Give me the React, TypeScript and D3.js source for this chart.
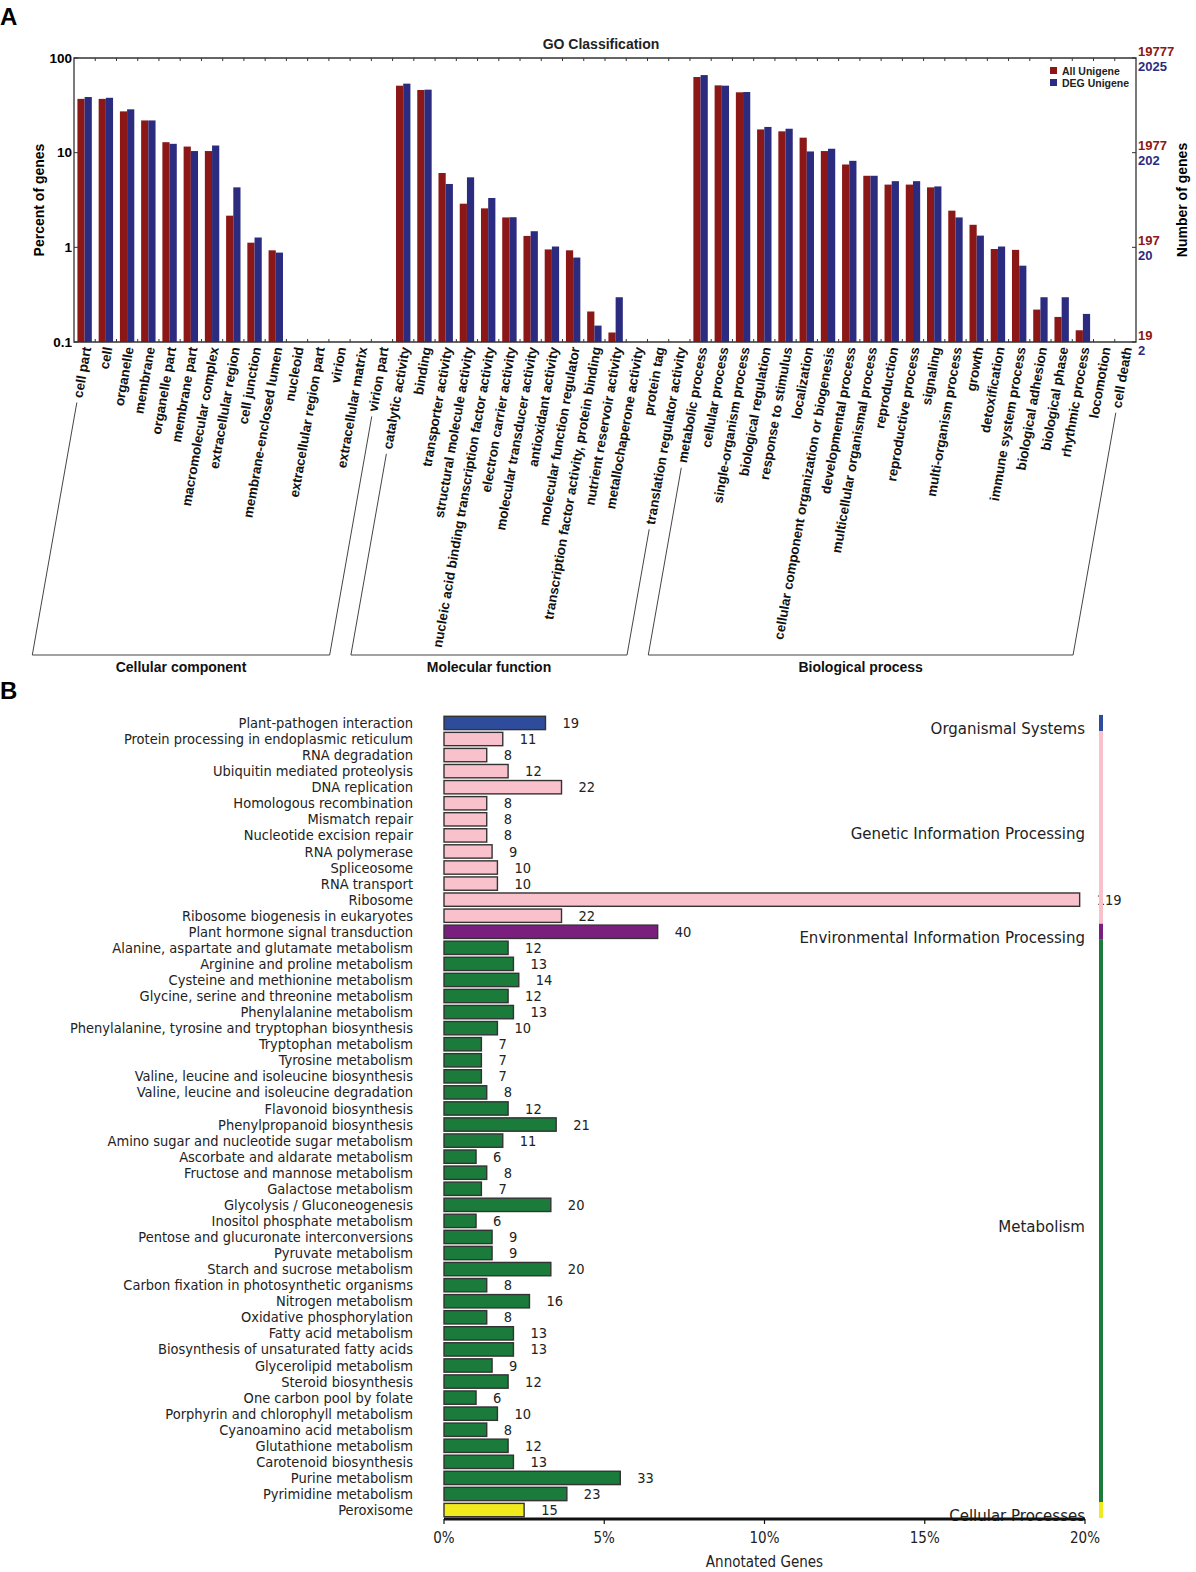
import * as React from "react";
import * as d3 from "d3";

// ---- Panel A: GO classification ----
const ccTerms = [
  "cell part", "cell", "organelle", "membrane", "organelle part", "membrane part",
  "macromolecular complex", "extracellular region", "cell junction", "membrane-enclosed lumen",
  "nucleoid", "extracellular region part", "virion", "extracellular matrix", "virion part",
];
const mfTerms = [
  "catalytic activity", "binding", "transporter activity", "structural molecule activity",
  "nucleic acid binding transcription factor activity", "electron carrier activity",
  "molecular transducer activity", "antioxidant activity", "molecular function regulator",
  "transcription factor activity, protein binding", "nutrient reservoir activity",
  "metallochaperone activity", "protein tag", "translation regulator activity",
];
const bpTerms = [
  "metabolic process", "cellular process", "single-organism process", "biological regulation",
  "response to stimulus", "localization", "cellular component organization or biogenesis",
  "developmental process", "multicellular organismal process", "reproduction",
  "reproductive process", "signaling", "multi-organism process", "growth", "detoxification",
  "immune system process", "biological adhesion", "biological phase", "rhythmic process",
  "locomotion", "cell death",
];
const goGroupNames = ["Cellular component", "Molecular function", "Biological process"];

// percent of genes (null = no bar)
const ccAll = [37, 37, 27.3, 21.9, 12.9, 11.6, 10.4, 2.16, 1.12, 0.93, null, null, null, null, null];
const ccDeg = [38.7, 38, 28.7, 21.9, 12.4, 10.4, 11.9, 4.3, 1.27, 0.88, null, null, null, null, null];
const mfAll = [51, 45.9, 6.1, 2.89, 2.58, 2.07, 1.32, 0.95, 0.93, 0.21, 0.126, null, null, null];
const mfDeg = [53.6, 46.3, 4.67, 5.49, 3.32, 2.08, 1.48, 1.02, 0.78, 0.149, 0.297, null, null, null];
const bpAll = [63, 51.4, 43.4, 17.6, 16.8, 14.4, 10.4, 7.5, 5.7, 4.6, 4.6, 4.3, 2.44, 1.73, 0.96, 0.94, 0.22, 0.184, 0.133, null, null];
const bpDeg = [66, 51, 43.7, 18.7, 17.9, 10.3, 11, 8.2, 5.7, 5.0, 5.0, 4.4, 2.07, 1.33, 1.02, 0.64, 0.297, 0.297, 0.198, null, null];

const pctTicks = [100, 10, 1, 0.1];
const allCountLabels = ["19777", "1977", "197", "19"];
const degCountLabels = ["2025", "202", "20", "2"];

// ---- Panel B: KEGG pathways ----
const keggPathways = [
  "Plant-pathogen interaction", "Protein processing in endoplasmic reticulum", "RNA degradation",
  "Ubiquitin mediated proteolysis", "DNA replication", "Homologous recombination", "Mismatch repair",
  "Nucleotide excision repair", "RNA polymerase", "Spliceosome", "RNA transport", "Ribosome",
  "Ribosome biogenesis in eukaryotes", "Plant hormone signal transduction",
  "Alanine, aspartate and glutamate metabolism", "Arginine and proline metabolism",
  "Cysteine and methionine metabolism", "Glycine, serine and threonine metabolism",
  "Phenylalanine metabolism", "Phenylalanine, tyrosine and tryptophan biosynthesis",
  "Tryptophan metabolism", "Tyrosine metabolism", "Valine, leucine and isoleucine biosynthesis",
  "Valine, leucine and isoleucine degradation", "Flavonoid biosynthesis", "Phenylpropanoid biosynthesis",
  "Amino sugar and nucleotide sugar metabolism", "Ascorbate and aldarate metabolism",
  "Fructose and mannose metabolism", "Galactose metabolism", "Glycolysis / Gluconeogenesis",
  "Inositol phosphate metabolism", "Pentose and glucuronate interconversions", "Pyruvate metabolism",
  "Starch and sucrose metabolism", "Carbon fixation in photosynthetic organisms", "Nitrogen metabolism",
  "Oxidative phosphorylation", "Fatty acid metabolism", "Biosynthesis of unsaturated fatty acids",
  "Glycerolipid metabolism", "Steroid biosynthesis", "One carbon pool by folate",
  "Porphyrin and chlorophyll metabolism", "Cyanoamino acid metabolism", "Glutathione metabolism",
  "Carotenoid biosynthesis", "Purine metabolism", "Pyrimidine metabolism", "Peroxisome",
];
const keggCounts = [
  19, 11, 8, 12, 22, 8, 8, 8, 9, 10, 10, 119, 22, 40, 12, 13, 14, 12, 13, 10,
  7, 7, 7, 8, 12, 21, 11, 6, 8, 7, 20, 6, 9, 9, 20, 8, 16, 8, 13, 13,
  9, 12, 6, 10, 8, 12, 13, 33, 23, 15,
];
const keggTotal = 600;
const keggClasses = ["Organismal Systems", "Genetic Information Processing", "Environmental Information Processing", "Metabolism", "Cellular Processes"];
const keggClassSizes = [1, 12, 1, 35, 1];
const keggClassColors = ["#2f4c9c", "#f8c1cc", "#7b1f7e", "#1b7b3b", "#f1ea1d"];
const pctAxisTicks = [0, 5, 10, 15, 20];

export default function App() {
  const ref = React.useRef<SVGSVGElement>(null);

  const draw = () => {
    const svg = d3.select(ref.current);
    svg.selectAll("*").remove();

    const red = "#8b1717";
    const blue = "#2b2b7f";
    const axisColor = "#333";
    const sansBold = "'Liberation Sans', Arial, sans-serif";

    // ---------- Panel A ----------
    const terms = [...ccTerms, ...mfTerms, ...bpTerms];
    const allVals = [...ccAll, ...mfAll, ...bpAll];
    const degVals = [...ccDeg, ...mfDeg, ...bpDeg];
    const plot = { left: 74, right: 1136, top: 58, bottom: 342 };

    const x = d3.scaleBand<number>().domain(d3.range(terms.length)).range([plot.left, plot.right]);
    const y = d3.scaleLog().domain([0.1, 100]).range([plot.bottom, plot.top]);
    const bw = x.bandwidth();
    const barW = 7.2;

    svg.append("text").text("A").attr("x", 0).attr("y", 25)
      .attr("font-family", sansBold).attr("font-weight", "bold").attr("font-size", 24);

    svg.append("text").text("GO Classification").attr("x", 601).attr("y", 49)
      .attr("text-anchor", "middle").attr("font-family", sansBold).attr("font-weight", "bold")
      .attr("font-size", 14).attr("fill", "#222");

    const gA = svg.append("g");
    terms.forEach((_, i) => {
      const cx = x(i)! + bw / 2;
      const a = allVals[i];
      const d = degVals[i];
      if (a != null) {
        gA.append("rect").attr("x", cx - barW).attr("y", y(a)).attr("width", barW)
          .attr("height", plot.bottom - y(a)).attr("fill", red);
      }
      if (d != null) {
        gA.append("rect").attr("x", cx).attr("y", y(d)).attr("width", barW)
          .attr("height", plot.bottom - y(d)).attr("fill", blue);
      }
    });

    // frame
    gA.append("path")
      .attr("d", `M${plot.left},${plot.bottom}V${plot.top}H${plot.right}V${plot.bottom}Z`)
      .attr("fill", "none").attr("stroke", axisColor).attr("stroke-width", 1.3);

    // minor ticks at category boundaries
    d3.range(1, terms.length).forEach((i) => {
      const tx = x(i)!;
      gA.append("line").attr("x1", tx).attr("x2", tx).attr("y1", plot.top).attr("y2", plot.top + 3)
        .attr("stroke", axisColor);
      gA.append("line").attr("x1", tx).attr("x2", tx).attr("y1", plot.bottom).attr("y2", plot.bottom - 3)
        .attr("stroke", axisColor);
    });

    // y ticks
    pctTicks.forEach((t, i) => {
      const ty = y(t);
      gA.append("line").attr("x1", plot.left).attr("x2", plot.left + 4).attr("y1", ty).attr("y2", ty).attr("stroke", axisColor);
      gA.append("line").attr("x1", plot.right).attr("x2", plot.right - 4).attr("y1", ty).attr("y2", ty).attr("stroke", axisColor);
      gA.append("text").text(String(t)).attr("x", plot.left - 2).attr("y", ty).attr("dy", "0.35em")
        .attr("text-anchor", "end").attr("font-family", sansBold).attr("font-weight", "bold").attr("font-size", 13.5);
      gA.append("text").text(allCountLabels[i]).attr("x", plot.right + 2).attr("y", ty - 7).attr("dy", "0.35em")
        .attr("font-family", sansBold).attr("font-weight", "bold").attr("font-size", 13).attr("fill", red);
      gA.append("text").text(degCountLabels[i]).attr("x", plot.right + 2).attr("y", ty + 8).attr("dy", "0.35em")
        .attr("font-family", sansBold).attr("font-weight", "bold").attr("font-size", 13).attr("fill", blue);
    });

    gA.append("text").text("Percent of genes")
      .attr("transform", `translate(44,200) rotate(-90)`).attr("text-anchor", "middle")
      .attr("font-family", sansBold).attr("font-weight", "bold").attr("font-size", 14);
    gA.append("text").text("Number of genes")
      .attr("transform", `translate(1187,200) rotate(-90)`).attr("text-anchor", "middle")
      .attr("font-family", sansBold).attr("font-weight", "bold").attr("font-size", 14);

    // legend
    const legend = [["All Unigene", red], ["DEG Unigene", blue]];
    legend.forEach(([name, col], i) => {
      gA.append("rect").attr("x", 1050).attr("y", 67 + i * 12).attr("width", 7).attr("height", 7).attr("fill", col);
      gA.append("text").text(name).attr("x", 1062).attr("y", 71 + i * 12).attr("dy", "0.35em")
        .attr("font-family", sansBold).attr("font-weight", "bold").attr("font-size", 10.5).attr("fill", "#222");
    });

    // category labels, rotated
    const angle = -80;
    const rad = (angle * Math.PI) / 180;
    const dirX = -Math.cos(rad);
    const dirY = -Math.sin(rad);
    const ay = plot.bottom + 5;
    const ends: { x: number; y: number }[] = [];
    terms.forEach((t, i) => {
      const ax = x(i)! + bw / 2 + 2;
      const txt = gA.append("text").text(t)
        .attr("transform", `translate(${ax},${ay}) rotate(${angle})`)
        .attr("text-anchor", "end").attr("dy", "0.35em")
        .attr("font-family", sansBold).attr("font-weight", "bold").attr("font-size", 13.4).attr("fill", "#111");
      const len = (txt.node() as SVGTextElement).getComputedTextLength();
      ends.push({ x: ax + dirX * (len + 5), y: ay + dirY * (len + 5) });
    });

    // group brackets
    const baseY = 655;
    const groupSpans = [
      [0, ccTerms.length - 1],
      [ccTerms.length, ccTerms.length + mfTerms.length - 1],
      [ccTerms.length + mfTerms.length, terms.length - 1],
    ];
    groupSpans.forEach(([s, e], gi) => {
      const p1 = ends[s];
      const p2 = ends[e];
      const b1x = p1.x + (dirX * (baseY - p1.y)) / dirY;
      const b2x = p2.x + (dirX * (baseY - p2.y)) / dirY;
      gA.append("path")
        .attr("d", `M${p1.x},${p1.y}L${b1x},${baseY}H${b2x}L${p2.x},${p2.y}`)
        .attr("fill", "none").attr("stroke", "#444").attr("stroke-width", 1);
      gA.append("text").text(goGroupNames[gi]).attr("x", (b1x + b2x) / 2).attr("y", 672)
        .attr("text-anchor", "middle").attr("font-family", sansBold).attr("font-weight", "bold")
        .attr("font-size", 14).attr("fill", "#111");
    });

    // ---------- Panel B ----------
    const gB = svg.append("g");
    const condensed = "'DejaVu Sans Condensed', 'Liberation Sans Narrow', 'Roboto Condensed', sans-serif";
    gB.append("text").text("B").attr("x", 0).attr("y", 699)
      .attr("font-family", sansBold).attr("font-weight", "bold").attr("font-size", 24);

    const yb = d3.scaleBand<string>().domain(keggPathways).range([715, 1518]).paddingInner(0.17).paddingOuter(0.08);
    const xb = d3.scaleLinear().domain([0, 20]).range([444, 1085]);
    const step = yb.step();

    const classOf: number[] = [];
    keggClassSizes.forEach((n, ci) => d3.range(n).forEach(() => classOf.push(ci)));

    keggPathways.forEach((p, i) => {
      const pct = (keggCounts[i] / keggTotal) * 100;
      const cy = yb(p)! + yb.bandwidth() / 2;
      gB.append("rect").attr("x", xb(0)).attr("y", yb(p)!).attr("width", xb(pct) - xb(0))
        .attr("height", yb.bandwidth()).attr("fill", keggClassColors[classOf[i]])
        .attr("stroke", "#333").attr("stroke-width", 1.4);
      gB.append("text").text(p).attr("x", 413).attr("y", cy).attr("dy", "0.35em")
        .attr("text-anchor", "end").attr("font-family", condensed).attr("font-size", 14.5).attr("fill", "#222");
      gB.append("text").text(String(keggCounts[i])).attr("x", xb(pct) + 17).attr("y", cy).attr("dy", "0.35em")
        .attr("font-family", condensed).attr("font-size", 14.5).attr("fill", "#222");
    });

    // class stripes and labels
    let start = 0;
    keggClassSizes.forEach((n, ci) => {
      const y0 = yb(keggPathways[start])! - (step - yb.bandwidth()) / 2;
      const y1 = yb(keggPathways[start + n - 1])! + yb.bandwidth() + (step - yb.bandwidth()) / 2;
      gB.append("rect").attr("x", 1099).attr("y", y0).attr("width", 4).attr("height", y1 - y0)
        .attr("fill", keggClassColors[ci]);
      gB.append("text").text(keggClasses[ci]).attr("x", 1085).attr("y", (y0 + y1) / 2 + 6).attr("dy", "0.35em")
        .attr("text-anchor", "end").attr("font-family", "'DejaVu Sans', sans-serif").attr("font-size", 15)
        .attr("fill", "#222");
      start += n;
    });

    // x axis
    const axisY = 1519;
    gB.append("line").attr("x1", xb(0)).attr("x2", xb(20)).attr("y1", axisY).attr("y2", axisY)
      .attr("stroke", "#111").attr("stroke-width", 3);
    pctAxisTicks.forEach((t) => {
      gB.append("line").attr("x1", xb(t)).attr("x2", xb(t)).attr("y1", axisY).attr("y2", axisY + 5)
        .attr("stroke", "#111").attr("stroke-width", 1.2);
      gB.append("text").text(`${t}%`).attr("x", xb(t)).attr("y", 1543).attr("text-anchor", "middle")
        .attr("font-family", condensed).attr("font-size", 15).attr("fill", "#222");
    });
    gB.append("text").text("Annotated Genes").attr("x", xb(10)).attr("y", 1567).attr("text-anchor", "middle")
      .attr("font-family", condensed).attr("font-size", 15).attr("fill", "#222");
  };

  React.useEffect(() => {
    draw();
    // eslint-disable-next-line react-hooks/exhaustive-deps
  }, []);

  return (
    <svg
      ref={ref}
      width={1196}
      height={1572}
      style={{ position: "absolute", left: 0, top: 0, background: "#fff" }}
    />
  );
}
